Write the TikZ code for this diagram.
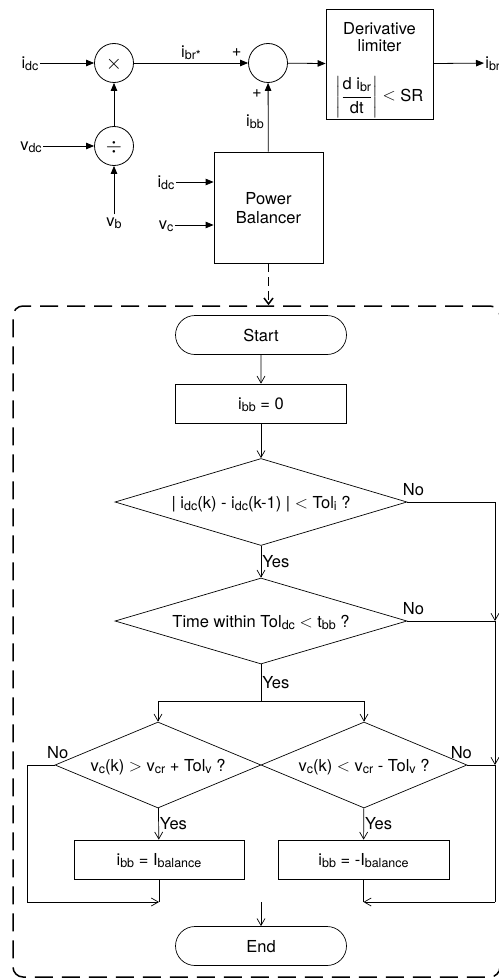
\documentclass[tikz,border=0pt]{standalone}
\usepackage{amsmath}
\usepackage{fontspec}
\setmainfont{TeX Gyre Heros}
\usepackage{tikz}
\usetikzlibrary{arrows.meta}
\usetikzlibrary{shapes.geometric}
\usetikzlibrary{shapes.misc}
\newcommand{\sub}[1]{\raisebox{-0.25ex}{\fontsize{12.5}{12.5}\selectfont #1}}
\newcommand{\mainsize}{\fontsize{16.5}{19}\selectfont}
\tikzstyle{opnode}=[draw, circle, inner sep=0, minimum size=39pt, line width=0.8pt]
\tikzstyle{blockbox}=[draw, inner sep=0, line width=0.8pt, align=center]
\tikzstyle{sig}=[line width=0.8pt, -{Triangle[length=8pt, width=6.5pt]}]
\tikzstyle{flowbox}=[draw, inner sep=0, minimum width=171pt, minimum height=39pt]
\tikzstyle{flowterm}=[flowbox, rounded rectangle]
\tikzstyle{flowdec}=[draw, diamond, inner sep=0]
\tikzstyle{flow}=[-{Straight Barb[length=7pt, width=8pt]}]
\tikzstyle{controller}=[x=1pt, y=-1pt, line width=0.7pt,
                        % Default font and label padding.
                        every node/.style={font=\mainsize, inner sep=1pt, text depth=0pt}]

\begin{document}
\begin{tikzpicture}[controller]
        \useasboundingbox (0, 0) rectangle (498, 979);
        % Reference path
        \node[opnode]                 (mult) at (114, 63) {\fontsize{22}{22}\selectfont$\times$};
        \node[opnode]                 (div)  at (114, 146) {\fontsize{22}{22}\selectfont$\div$};
        \node[opnode]                 (sum)  at (268, 63) {};
        \node                         (idcin) at (30, 63) {i\sub{dc}};
        \node                         (vdcin) at (31, 146) {v\sub{dc}};
        \node                         (vbin) at (114, 222) {v\sub{b}};
        \node[blockbox, minimum width=107pt, minimum height=110pt] (lim) at (379.5, 64) {};
        \node[align=center]           (limtxt) at (379.5, 37) {Derivative\\[-2pt]limiter};
        \node                         (limeq) at (379.5, 89) {$\left|\dfrac{\text{d i\sub{br}}}{\text{dt}}\right|$ \raisebox{1pt}{$<$} SR};
        \node[anchor=west]            (ibrout) at (484, 63) {i\sub{br}};
        \node[blockbox, minimum width=109pt, minimum height=111pt] (pb) at (268.5, 207.5) {Power\\Balancer};
        \node                         (pidc) at (166, 182) {i\sub{dc}};
        \node                         (pvc) at (166, 225) {v\sub{c}};
        \draw[sig] (idcin) -- (mult);
        \draw[sig] (vdcin) -- (div);
        \draw[sig, shorten <=2pt] (vbin) -- (div);
        \draw[sig] (div) -- (mult);
        \draw[sig] (mult) -- node[above=4pt] {i\sub{br*}} node[pos=0.9, above=5pt] {+} (sum);
        \draw[sig] (pb) -- node[left=3pt, pos=0.45] {i\sub{bb}} node[pos=0.85, left=5pt] {+} (sum);
        \draw[sig] (sum) -- (lim);
        \draw[sig] (lim) -- (ibrout);
        \draw[sig] (pidc) -- (pidc -| pb.west);
        \draw[sig] (pvc) -- (pvc -| pb.west);
        % Power balancer algorithm
        \node[draw, dashed, dash pattern=on 18pt off 9pt, line width=1.5pt, rounded corners=10pt,
              minimum width=487pt, minimum height=671pt, inner sep=0] (frame) at (256.5, 641.5) {};
        \draw[line width=1.5pt, dash pattern=on 9pt off 5pt, -{Straight Barb[length=6pt, width=9pt]}]
            (pb) -- (pb |- frame.north);
        \node[flowterm]                    (start) at (261, 335) {Start};
        \node[flowbox]                     (init)  at (261, 403.5) {i\sub{bb} = 0};
        \node[flowdec, aspect=3.36, minimum width=292pt, minimum height=87pt] (dec1) at (261, 502) {| i\sub{dc}(k) - i\sub{dc}(k-1) | $<$ Tol\sub{i} ?};
        \node[flowdec, aspect=3.36, minimum width=292pt, minimum height=86pt] (dec2) at (261, 621) {Time within Tol\sub{dc} $<$ t\sub{bb} ?};
        \node[flowdec, aspect=2.4, minimum width=206pt, minimum height=86pt] (dec3) at (158, 765) {v\sub{c}(k) $>$ v\sub{cr} + Tol\sub{v} ?};
        \node[flowdec, aspect=2.4, minimum width=206pt, minimum height=86pt] (dec4) at (364, 765) {v\sub{c}(k) $<$ v\sub{cr} - Tol\sub{v} ?};
        \node[flowbox, minimum width=170pt] (act1) at (159, 859.5) {i\sub{bb} = I\sub{balance}};
        \node[flowbox]                     (act2) at (363.5, 859.5) {i\sub{bb} = -I\sub{balance}};
        \node[flowterm]                    (stop) at (261, 946) {End};
        \coordinate (split) at (261, 701);
        \coordinate (merge) at (261, 902);
        \coordinate (rbus1) at (495, 502);
        \coordinate (rbus2) at (495, 621);
        \coordinate (rbus3) at (495, 765);
        \coordinate (rbus4) at (495, 902);
        \coordinate (lbus1) at (27, 765);
        \coordinate (lbus2) at (27, 902);
        \draw[flow] (start) -- (init);
        \draw[flow] (init) -- (dec1);
        \draw[flow] (dec1) -- node[right] {Yes} (dec2);
        \draw (dec2) -- node[right] {Yes} (split);
        \draw[flow] (split) -| (dec3);
        \draw[flow] (split) -| (dec4);
        \draw[flow] (dec3) -- node[right] {Yes} (act1);
        \draw[flow] (dec4) -- node[right] {Yes} (act2);
        \draw (dec1.east) -- node[pos=0.07, above=5pt] {No} (rbus1);
        \draw (dec2.east) -- node[pos=0.07, above=5pt] {No} (rbus2);
        \draw (dec4.east) -- node[pos=0, above=5pt, xshift=-6pt] {No} (rbus3);
        \draw (dec3.west) -- node[pos=0, above=5pt, xshift=3pt] {No} (lbus1);
        \draw[flow] (rbus1) -- (rbus2);
        \draw[flow] (rbus2) -- (rbus3);
        \draw (rbus3) -- (rbus4);
        \draw[flow] (rbus4) -- (act2.south |- rbus4);
        \draw (lbus1) -- (lbus2);
        \draw[flow] (lbus2) -- (act1.south |- lbus2);
        \draw (act1) -- (act1.south |- lbus2);
        \draw (act2) -- (act2.south |- rbus4);
        \draw[flow] (merge) -- (stop);
    \end{tikzpicture}
\end{document}
